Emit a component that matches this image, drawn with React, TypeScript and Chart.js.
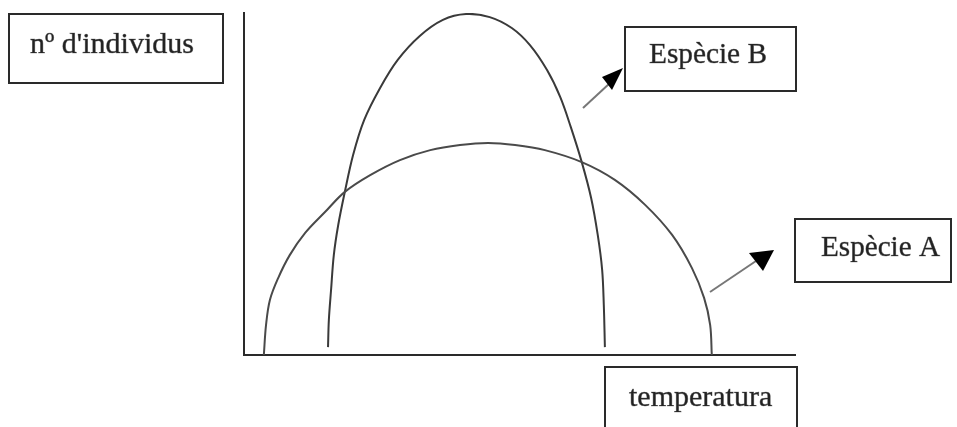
import React, { useEffect, useRef } from "react";
import { Chart, registerables } from "chart.js";

Chart.register(...registerables);

// temperature (arbitrary units 0-100) and number of individuals (0-100)
const speciesATemp = [3.6, 4.0, 4.7, 6.2, 8.3, 11.1, 14.7, 18.3, 22.9, 28.3, 33.8, 39.2, 44.3, 49.2, 54.6, 61.3, 67.3, 72.8, 77.7, 81.3, 83.5, 84.6, 84.9];
const speciesAIndiv = [0, 8.8, 16.1, 22.5, 29.2, 35.7, 41.8, 47.7, 52.6, 57.0, 59.9, 61.4, 62.0, 61.4, 59.9, 56.4, 51.2, 43.9, 35.1, 25.4, 16.7, 8.8, 0];

const speciesBTemp = [15.25, 15.4, 15.8, 16.3, 17.1, 18.3, 19.8, 21.8, 24.7, 27.9, 31.9, 36.1, 40.3, 44.6, 48.6, 51.9, 55.0, 57.4, 59.3, 61.3, 63.0, 64.2, 65.0, 65.3, 65.5];
const speciesBIndiv = [2.3, 10.2, 19.0, 29.2, 38.0, 47.7, 58.5, 68.7, 78.1, 86.3, 93.3, 98.0, 99.7, 98.8, 95.6, 90.6, 83.3, 75.4, 66.7, 56.4, 45.9, 35.1, 24.9, 14.6, 2.3];

const labelY = "nº d'individus";
const labelX = "temperatura";
const labelA = "Espècie A";
const labelB = "Espècie B";

const toPoints = (xs: number[], ys: number[]) => xs.map((x, i) => ({ x, y: ys[i] }));

export default function App() {
  const canvasRef = useRef<HTMLCanvasElement | null>(null);

  useEffect(() => {
    if (!canvasRef.current) return;
    const font = "Liberation Serif";

    const annotations = {
      id: "annotations",
      afterDraw(chart: any) {
        const ctx = chart.ctx as CanvasRenderingContext2D;
        ctx.save();
        const box = (x: number, y: number, w: number, h: number) => {
          ctx.strokeStyle = "#2a2a2a";
          ctx.lineWidth = 2;
          ctx.strokeRect(x, y, w, h);
        };
        const text = (t: string, x: number, y: number, w: number) => {
          ctx.font = `30px "${font}"`;
          ctx.textBaseline = "alphabetic";
          ctx.textAlign = "left";
          ctx.fillStyle = "#222";
          ctx.fillText(t, x, y, w);
          ctx.strokeStyle = "rgba(60,60,60,0.6)";
          ctx.lineWidth = 0.7;
          ctx.strokeText(t, x, y, w);
        };
        const arrow = (x1: number, y1: number, x2: number, y2: number, tri: number[][]) => {
          ctx.strokeStyle = "#777";
          ctx.lineWidth = 2;
          ctx.beginPath();
          ctx.moveTo(x1, y1);
          ctx.lineTo(x2, y2);
          ctx.stroke();
          ctx.fillStyle = "#000";
          ctx.beginPath();
          ctx.moveTo(tri[0][0], tri[0][1]);
          ctx.lineTo(tri[1][0], tri[1][1]);
          ctx.lineTo(tri[2][0], tri[2][1]);
          ctx.closePath();
          ctx.fill();
        };

        box(9, 14, 214, 69);
        text(labelY, 30, 53, 164);

        box(625, 27, 171, 64);
        text(labelB, 649, 63, 118);
        arrow(583, 108, 610, 83, [[623, 68], [602, 77], [612, 90]]);

        box(795, 219, 156, 63);
        text(labelA, 821, 256, 119);
        arrow(710, 292, 756, 261, [[749, 253], [774, 250], [763, 271]]);

        box(605, 367, 192, 70);
        text(labelX, 629, 406, 144);

        ctx.restore();
      },
    };

    const chart = new Chart(canvasRef.current, {
      type: "scatter",
      data: {
        datasets: [
          {
            label: labelA,
            data: toPoints(speciesATemp, speciesAIndiv),
            showLine: true,
            borderColor: "#4a4a4a",
            borderWidth: 2,
            pointRadius: 0,
            tension: 0.35,
          },
          {
            label: labelB,
            data: toPoints(speciesBTemp, speciesBIndiv),
            showLine: true,
            borderColor: "#3a3a3a",
            borderWidth: 2,
            pointRadius: 0,
            tension: 0.35,
          },
        ],
      },
      options: {
        animation: false,
        responsive: false,
        layout: { padding: { left: 244, right: 162, top: 13, bottom: 72 } },
        plugins: { legend: { display: false }, tooltip: { enabled: false } },
        scales: {
          x: {
            type: "linear",
            min: 0,
            max: 100,
            grid: { display: false, drawTicks: false },
            ticks: { display: false },
            border: { display: true, color: "#2a2a2a", width: 2 },
          },
          y: {
            type: "linear",
            min: 0,
            max: 100,
            grid: { display: false, drawTicks: false },
            ticks: { display: false },
            border: { display: true, color: "#2a2a2a", width: 2 },
          },
        },
      },
      plugins: [annotations],
    });
    return () => chart.destroy();
  }, []);

  return (
    <div style={{ position: "absolute", left: 0, top: 0, width: 957, height: 427, background: "#fff", overflow: "hidden" }}>
      <canvas ref={canvasRef} width={957} height={427} />
    </div>
  );
}
